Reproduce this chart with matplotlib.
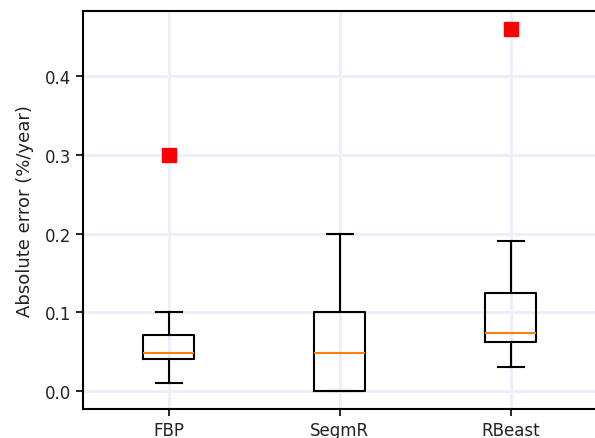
import matplotlib
matplotlib.use("Agg")
import matplotlib.pyplot as plt

methods = ["FBP", "SegmR", "RBeast"]
whislo = [0.01, 0.0, 0.03]
q1 = [0.041, 0.0, 0.062]
med = [0.048, 0.048, 0.073]
q3 = [0.071, 0.1, 0.124]
whishi = [0.1, 0.2, 0.19]
fliers = [[0.3], [], [0.46]]

stats = []
for i, name in enumerate(methods):
    stats.append(dict(label=name, whislo=whislo[i], q1=q1[i], med=med[i],
                      q3=q3[i], whishi=whishi[i], fliers=fliers[i]))

fig = plt.figure(figsize=(5.95, 4.39), dpi=100)
ax = fig.add_axes([0.140, 0.066, 0.862, 0.907])
ax.bxp(stats, widths=0.3,
       boxprops=dict(color="black", linewidth=1.5),
       whiskerprops=dict(color="black", linewidth=1.5),
       capprops=dict(color="black", linewidth=1.5),
       medianprops=dict(color="#ff7f0e", linewidth=1.5),
       flierprops=dict(marker="s", markerfacecolor="red", markeredgecolor="red",
                       markersize=9.5))
ax.grid(True, color="#ededfb", linewidth=2)
ax.set_axisbelow(True)
ax.set_ylabel("Absolute error (%/year)", fontsize=13, color="#222222", labelpad=8)
ax.set_yticks([0.0, 0.1, 0.2, 0.3, 0.4])
ax.tick_params(labelsize=12, width=1.2, length=5, labelcolor="#222222")
for s in ax.spines.values():
    s.set_linewidth(1.5)
plt.savefig("out.png", dpi=100)
